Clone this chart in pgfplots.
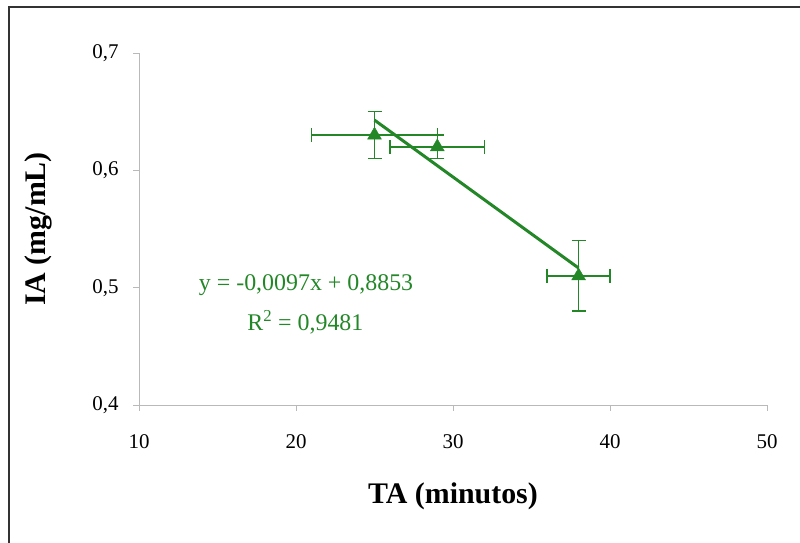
\documentclass[border=0pt]{standalone}
\usepackage{pgfplots}
\pgfplotsset{compat=1.18}
\usepackage{fontspec}
\setmainfont{Liberation Serif}
\definecolor{tg}{RGB}{35,135,40}
\definecolor{axg}{RGB}{185,185,185}
\begin{document}
\begin{tikzpicture}[x=1bp,y=1bp]
\useasboundingbox (0,0) rectangle (800,543);
\draw[line width=1.6bp, black!80] (9,-2) -- (9,536) -- (802,536);
\begin{axis}[
  at={(139bp,138bp)}, anchor=south west,
  scale only axis, width=628bp, height=352bp,
  xmin=10, xmax=50, ymin=0.4, ymax=0.7,
  xtick={10,20,30,40,50}, ytick={0.4,0.5,0.6,0.7},
  axis x line=bottom, axis y line=left,
  axis line style={-, draw=axg, line width=0.6bp},
  tick style={draw=axg, line width=0.6bp},
  tick align=outside, major tick length=6bp,
  /pgf/number format/assume math mode=true,
  /pgf/number format/use comma,
  yticklabel style={/pgf/number format/fixed, /pgf/number format/fixed zerofill, /pgf/number format/precision=1, font=\fontsize{21}{24}\selectfont, xshift=-11bp},
  xticklabel style={font=\fontsize{21}{24}\selectfont, yshift=-20bp},
  xlabel={\textbf{TA (minutos)}},
  ylabel={\textbf{IA (mg/mL)}},
  xlabel style={font=\fontsize{30}{34}\selectfont, at={(axis description cs:0.5,0)}, yshift=-74bp},
  ylabel style={font=\fontsize{30}{34}\selectfont, at={(axis description cs:0,0.5)}, yshift=83bp},
  clip=false,
]
\addplot[tg, line width=3bp, no marks] coordinates {(25,0.6428) (38,0.5167)};
\addplot[tg, only marks, mark=triangle*, mark size=8bp,
  error bars/.cd, x dir=both, x explicit, y dir=both, y explicit,
  error bar style={line width=1.5bp, tg},
  error mark options={line width=1.5bp, tg, mark size=7bp, rotate=90}]
  table[x=x, y=y, x error=ex, y error=ey] {
x y ex ey
25 0.63 4 0.02
29 0.62 3 0.01
38 0.51 2 0.03
};
\node[tg, font=\fontsize{24}{26}\selectfont] at (axis cs:20.64,0.502) {y = -0,0097x + 0,8853};
\node[tg, font=\fontsize{24}{26}\selectfont] at (axis cs:20.6,0.4705) {R\textsuperscript{2} = 0,9481};
\end{axis}
\end{tikzpicture}
\end{document}
